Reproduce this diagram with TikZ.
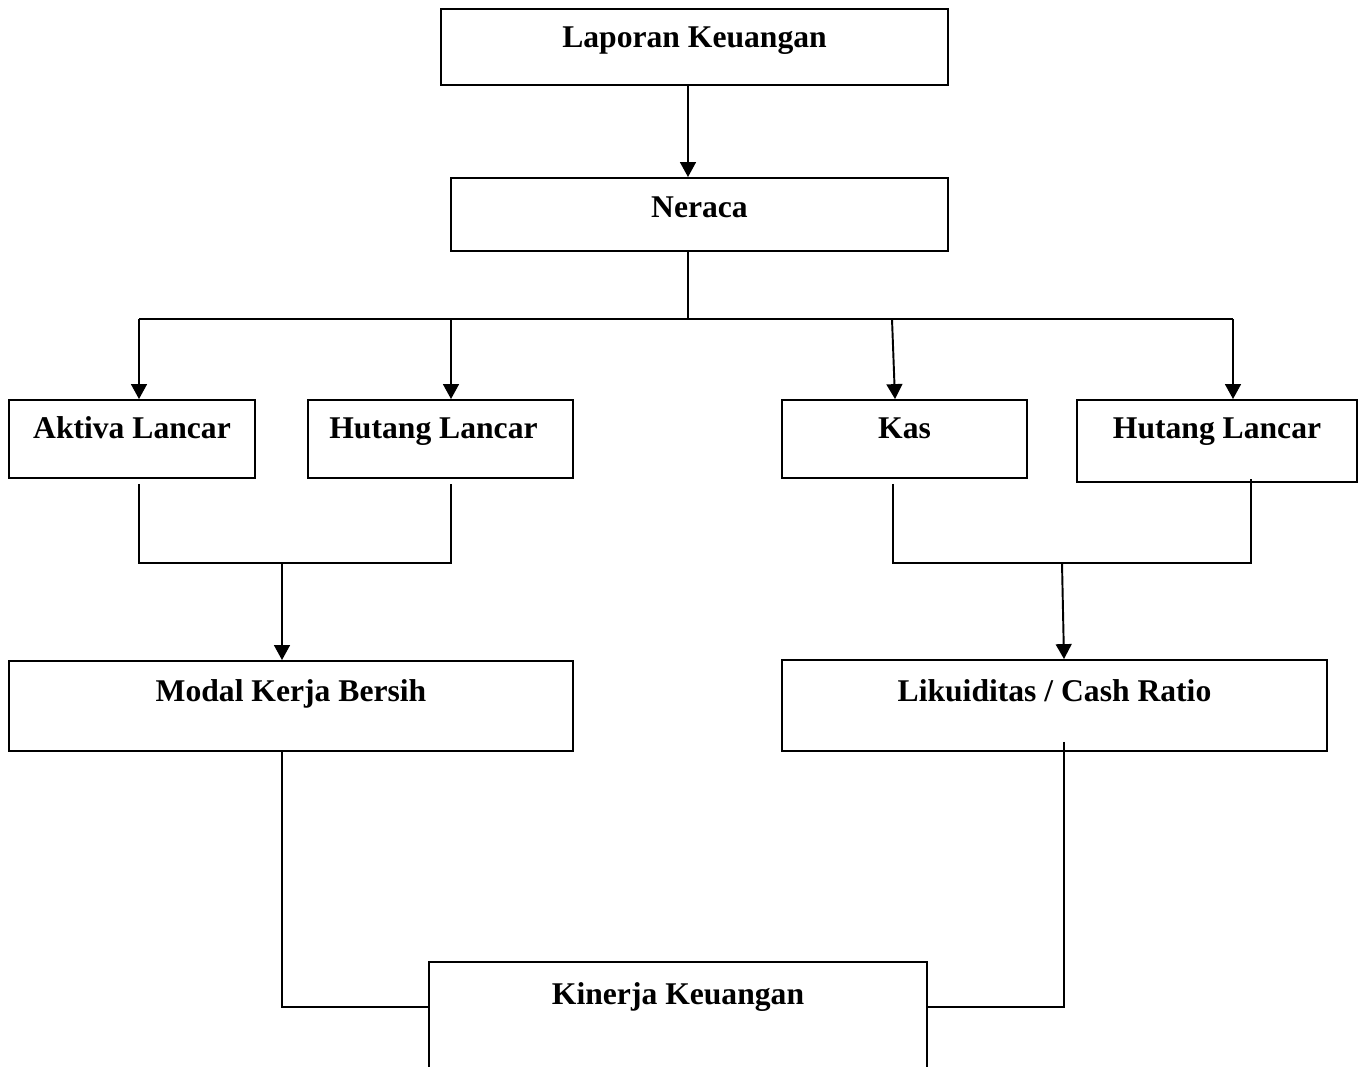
\documentclass[tikz,border=0pt]{standalone}
\usepackage{fontspec}
\setmainfont{Liberation Serif}
\usetikzlibrary{arrows.meta,calc,fit}

\begin{document}
\begin{tikzpicture}[x=0.02cm,y=-0.02cm,
		kotak/.style={draw,line width=1.1pt,inner sep=0pt},
		teks/.style={anchor=base,font=\bfseries\fontsize{18}{22}\selectfont,inner sep=0pt},
		garis/.style={line width=1.1pt},
		panah/.style={garis,-{Triangle[width=9pt,length=8.5pt]}}]
		\useasboundingbox (0,0) rectangle (1366,1066);
		\clip (0,0) rectangle (1366,1066);
		% kotak
		\node[kotak,fit={(441,9) (948,85)}] (lap) {};
		\node[kotak,fit={(451,178) (948,251)}] (ner) {};
		\node[kotak,fit={(9,400) (255,478)}] (akt) {};
		\node[kotak,fit={(308,400) (573,478)}] (hut1) {};
		\node[kotak,fit={(782,400) (1027,478)}] (kas) {};
		\node[kotak,fit={(1077,400) (1357,482)}] (hut2) {};
		\node[kotak,fit={(9,661) (573,751)}] (mod) {};
		\node[kotak,fit={(782,660) (1327,751)}] (lik) {};
		\node[kotak,fit={(429,962) (927,1080)}] (kin) {};
		% teks
		\node[teks] at ($(lap.north)+(0,39)$) {Laporan Keuangan};
		\node[teks] at ($(ner.north)+(0,40)$) {Neraca};
		\node[teks] at ($(akt.north)+(0,39)$) {Aktiva Lancar};
		\node[teks] at ($(hut1.north)+(-7,39)$) {Hutang Lancar};
		\node[teks] at ($(kas.north)+(0,39)$) {Kas};
		\node[teks] at ($(hut2.north)+(0,39)$) {Hutang Lancar};
		\node[teks] at ($(mod.north)+(0,41)$) {Modal Kerja Bersih};
		\node[teks] at ($(lik.north)+(0,42)$) {Likuiditas / Cash Ratio};
		\node[teks] at ($(kin.north)+(0,43)$) {Kinerja Keuangan};
		% cabang dari neraca
		\coordinate (c) at (688,319);
		\coordinate (a1) at (139,319);
		\coordinate (a2) at (451,319);
		\coordinate (a3) at (892,319);
		\coordinate (a4) at (1233,319);
		\draw[panah] (lap.south -| c) -- (ner.north -| c);
		\draw[garis] (ner.south -| c) -- (c);
		\draw[garis] (a1) -- (a4);
		\foreach \a/\n in {a1/akt,a2/hut1,a4/hut2}
			\draw[panah] (\a) -- (\a |- \n.north);
		\draw[panah] (a3) -- ($(kas.north)+(-9.5,0)$);
		% gabungan kiri dan kanan
		\coordinate (b1) at (282,563);
		\coordinate (b2) at (1062,563);
		\draw[garis] ($(akt.south -| a1)+(0,5)$) |- (b1) -| ($(hut1.south -| a2)+(0,5)$);
		\draw[garis] ($(kas.south -| a3)+(1,5)$) |- (b2) -| ($(hut2.south)+(34,-4)$);
		\draw[panah] (b1) -- (b1 |- mod.north);
		\draw[panah] (b2) -- ($(lik.north)+(9.5,0)$);
		% ke kinerja keuangan
		\draw[garis] (mod.south -| b1) |- (kin.west |- 0,1007);
		\draw[garis] ($(lik.south)+(9.5,-10)$) |- (kin.east |- 0,1007);
	\end{tikzpicture}
\end{document}
